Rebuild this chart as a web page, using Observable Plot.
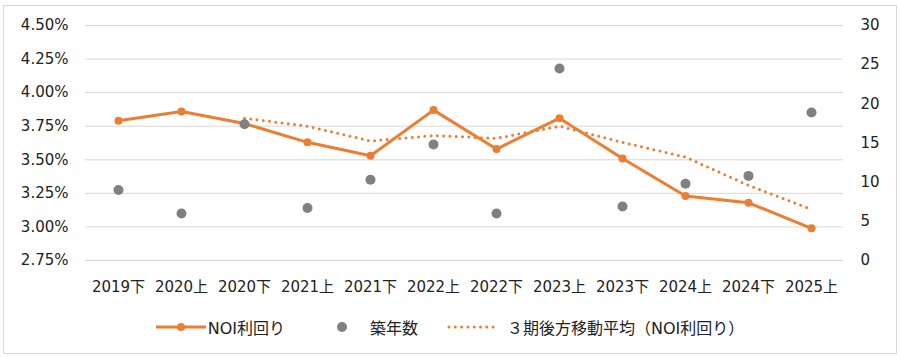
<!DOCTYPE html>
<html>
<head>
<meta charset="utf-8">
<script src="https://cdn.jsdelivr.net/npm/d3@7"></script>
<script src="https://cdn.jsdelivr.net/npm/@observablehq/plot@0.6"></script>
<style>
  html, body { margin: 0; padding: 0; background: #fff; }
  #frame {
    position: absolute; left: 3px; top: 5px;
    width: 892px; height: 347px;
    border: 1px solid #d9d9d9; background: #fff;
  }
  #legend {
    height: 42px; display: flex; align-items: center; justify-content: center;
    font-family: "DejaVu Sans", "Noto Sans CJK JP", sans-serif; font-size: 16px; color: #222;
  }
  .item { display: flex; align-items: center; }
  .item svg { display: block; }
</style>
</head>
<body>
<div id="frame">
  <div id="chart"></div>
  <div id="legend"></div>
</div>
<script>
const categories = ["2019下","2020上","2020下","2021上","2021下","2022上","2022下","2023上","2023下","2024上","2024下","2025上"];
const noiYield = [3.79, 3.86, 3.77, 3.63, 3.53, 3.87, 3.58, 3.81, 3.51, 3.23, 3.18, 2.99];
const movingAvg = [null, null, 3.81, 3.75, 3.64, 3.68, 3.66, 3.75, 3.63, 3.52, 3.31, 3.13];
const buildingAge = [9.0, 6.0, 17.4, 6.7, 10.3, 14.8, 6.0, 24.5, 6.9, 9.8, 10.8, 18.9];
const leftTicks = [2.75, 3.00, 3.25, 3.50, 3.75, 4.00, 4.25, 4.50];
const rightTicks = [0, 5, 10, 15, 20, 25, 30];
const seriesNames = ["NOI利回り", "築年数", "３期後方移動平均（NOI利回り）"];

const orange = "#ED7D31";
const gray = "#808080";
const yMin = 2.75, yMax = 4.5, rMax = 30;
const toY = a => yMin + a * (yMax - yMin) / rMax;

const noiData = categories.map((c, i) => ({cat: c, v: noiYield[i]}));
const maData = categories.map((c, i) => ({cat: c, v: movingAvg[i]})).filter(d => d.v != null);
const ageData = categories.map((c, i) => ({cat: c, v: buildingAge[i]}));

const chart = Plot.plot({
  width: 892, height: 300,
  marginLeft: 81, marginRight: 53, marginTop: 19, marginBottom: 46,
  style: {fontFamily: '"DejaVu Sans", "Noto Sans CJK JP", sans-serif', fontSize: "15px", color: "#222", background: "#fff"},
  x: {type: "point", domain: categories, padding: 0.5, label: null},
  y: {domain: [yMin, yMax], label: null},
  marks: [
    Plot.gridY(leftTicks, {stroke: "#d9d9d9", strokeOpacity: 1, strokeWidth: 1}),
    Plot.axisY(leftTicks, {anchor: "left", tickSize: 0, tickPadding: 17, label: null, tickFormat: d => d.toFixed(2) + "%"}),
    Plot.axisY(rightTicks.map(toY), {anchor: "right", tickSize: 0, tickPadding: 17, label: null, textAnchor: "start", tickFormat: d => String(Math.round((d - yMin) * rMax / (yMax - yMin)))}),
    Plot.axisX({tickSize: 0, tickPadding: 21, label: null}),
    Plot.line(maData, {x: "cat", y: "v", stroke: orange, strokeWidth: 3, strokeDasharray: "0 6.3", strokeLinecap: "round"}),
    Plot.line(noiData, {x: "cat", y: "v", stroke: orange, strokeWidth: 3}),
    Plot.dot(noiData, {x: "cat", y: "v", r: 4, fill: orange}),
    Plot.dot(ageData, {x: "cat", y: d => toY(d.v), r: 5, fill: gray})
  ]
});
document.getElementById("chart").appendChild(chart);

// Legend
const legend = document.getElementById("legend");
function addItem(swatchSvg, text, marginLeft, gap) {
  const el = document.createElement("div");
  el.className = "item";
  el.style.marginLeft = marginLeft + "px";
  el.innerHTML = swatchSvg + `<span style="margin-left:${gap}px">${text}</span>`;
  legend.appendChild(el);
}
addItem(`<svg width="50" height="12"><line x1="0" y1="6" x2="50" y2="6" stroke="${orange}" stroke-width="3"/><circle cx="25" cy="6" r="4" fill="${orange}"/></svg>`, seriesNames[0], 0, 2);
addItem(`<svg width="12" height="12"><circle cx="6" cy="6" r="5" fill="${gray}"/></svg>`, seriesNames[1], 51, 22);
addItem(`<svg width="50" height="12"><line x1="2" y1="6" x2="48" y2="6" stroke="${orange}" stroke-width="3" stroke-dasharray="0 6.3" stroke-linecap="round"/></svg>`, seriesNames[2], 29, 10);
</script>
</body>
</html>
